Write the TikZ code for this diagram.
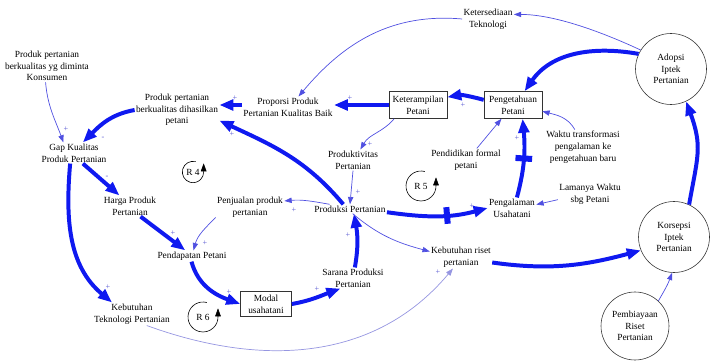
\documentclass[tikz,border=0pt]{standalone}
\usepackage{fontspec}
\setmainfont{Liberation Serif}
\usetikzlibrary{arrows.meta}
\definecolor{thickblue}{RGB}{15,25,240}
\definecolor{thinblue}{RGB}{80,80,225}
\definecolor{paleblue}{RGB}{150,150,225}
\definecolor{signblue}{RGB}{90,90,210}
\begin{document}
\begin{tikzpicture}[x=0.3mm,y=0.3mm,font=\fontsize{8}{10}\selectfont,
  var/.style={align=center,inner sep=1pt},
  lvl/.style={var,draw=black!80,line width=0.5pt,inner xsep=3pt,inner ysep=2pt,minimum height=8.1mm},
  ext/.style={var,circle,draw=black!80,line width=0.5pt,minimum size=21.3mm},
  thk/.style={draw=thickblue,line width=3.4pt,-{Triangle[length=4.2mm,width=3.2mm]}},
  thn/.style={draw=thinblue,line width=0.6pt,-{Triangle[length=2.2mm,width=1.6mm]}},
  sgn/.style={text=signblue,font=\fontsize{7}{7}\selectfont,inner sep=0pt},
  delay/.style={sloped,fill=thickblue,inner sep=0pt,minimum width=1.8mm,minimum height=5mm},
  loopmark/.style={black,line width=0.5pt,-{Triangle[length=2.4mm,width=1.7mm]}}]
\useasboundingbox (0,0) rectangle (718,-363);

\node[var] (konsumen) at (47,-66) {Produk pertanian\\berkualitas yg diminta\\Konsumen};
\node[var] (tersedia) at (488,-19) {Ketersediaan\\Teknologi};
\node[ext] (adopsi) at (671,-69) {Adopsi\\Iptek\\Pertanian};
\node[var] (dihasil) at (177,-110) {Produk pertanian\\berkualitas dihasilkan\\petani};
\node[var] (proporsi) at (288,-107) {Proporsi Produk\\Pertanian Kualitas Baik};
\node[lvl,minimum width=17.4mm] (trampil) at (418,-105) {Keterampilan\\Petani};
\node[lvl,minimum width=17.4mm] (tahu) at (513,-105) {Pengetahuan\\Petani};
\node[var] (gap) at (74,-153) {Gap Kualitas\\Produk Pertanian};
\node[var] (waktu) at (583,-147) {Waktu transformasi\\pengalaman ke\\pengetahuan baru};
\node[var] (didik) at (466,-160) {Pendidikan formal\\petani};
\node[var] (produktif) at (353,-160) {Produktivitas\\Pertanian};
\node[var] (harga) at (130,-206) {Harga Produk\\Pertanian};
\node[var] (jual) at (250,-207) {Penjualan produk\\pertanian};
\node[var] (produksi) at (350,-209) {Produksi Pertanian};
\node[var] (alami) at (512,-208) {Pengalaman\\Usahatani};
\node[var] (lama) at (590,-194) {Lamanya Waktu\\sbg Petani};
\node[ext] (korsepsi) at (674,-237) {Korsepsi\\Iptek\\Pertanian};
\node[var] (dapat) at (192,-256) {Pendapatan Petani};
\node[var] (riset) at (461,-257) {Kebutuhan riset\\pertanian};
\node[var] (sarana) at (353,-278) {Sarana Produksi\\Pertanian};
\node[lvl,minimum width=15.3mm,minimum height=7.5mm] (modal) at (266,-304) {Modal\\usahatani};
\node[var] (kebtek) at (132,-314) {Kebutuhan\\Teknologi Pertanian};
\node[ext,minimum size=20.4mm] (biaya) at (635,-326) {Pembiayaan\\Riset\\Pertanian};

\node (r4) at (193,-172) {R 4};
\node (r5) at (421,-186) {R 5};
\node (r6) at (203,-317) {R 6};
\draw[loopmark] ([shift={(75:3.2mm)}]r4.center) arc[start angle=75,end angle=360,radius=3.2mm] -- ++(0,2.6mm);
\draw[loopmark] ([shift={(75:4.5mm)}]r5.center) arc[start angle=75,end angle=360,radius=4.5mm] -- ++(0,2.6mm);
\draw[loopmark] ([shift={(75:4.5mm)}]r6.center) arc[start angle=75,end angle=360,radius=4.5mm] -- ++(0,2.6mm);

\draw[thk] (dihasil.west) to[out=190,in=45] (gap.50);
\draw[thk] ([yshift=0.6mm]proporsi.west) -- ([yshift=1.5mm]dihasil.east);
\draw[thk] (produksi.145) to[out=130,in=-25] (dihasil.-14);
\draw[thk] (trampil.west) -- (proporsi.east |- trampil.west);
\draw[thk] (tahu.170) to[out=165,in=10] (trampil.15);
\draw[thk] (adopsi.155) to[out=170,in=55] (tahu.50);
\draw[thk] (korsepsi.65) to[out=80,in=-70,looseness=1.2] (adopsi.-65);
\draw[thk] (alami.65) to[out=75,in=-85] node[delay,pos=0.5] {} (tahu.-55);
\draw[thk] (produksi.-5) to[out=-8,in=195] node[delay,pos=0.6] {} (alami.west);
\draw[thk] (gap.-50) -- (harga.135);
\draw[thk] (gap.-110) to[out=-95,in=140] (kebtek.150);
\draw[thk] (harga.-45) -- (dapat.140);
\draw[thk] (dapat.-95) to[out=-75,in=160] (modal.west);
\draw[thk] (modal.east) to[out=10,in=200] (sarana.-140);
\draw[thk] (sarana.80) to[out=80,in=-80] (produksi.-50);
\draw[thk] (riset.-10) to[out=-8,in=195] (korsepsi.202);

\draw[thn] (konsumen.-95) to[out=-85,in=110] (gap.135);
\draw[thn] (tersedia.west) to[out=175,in=50] (proporsi.45);
\draw[thn] (adopsi.148) to[out=155,in=0,looseness=0.8] (tersedia.10);
\draw[thn] (trampil.-150) to[out=-130,in=60] (produktif.55);
\draw[thn] (didik.47) -- (tahu.-130);
\draw[thn] (waktu.115) to[out=120,in=-15] (tahu.-12);
\draw[thn] (lama.190) -- (alami.8);
\draw[thn] (produktif.south) -- (produksi.north);
\draw[thn] (produksi.167) to[out=170,in=5] (jual.10);
\draw[thn] (jual.197) to[out=225,in=75] (dapat.75);
\draw[thn] (produksi.-60) to[out=-40,in=165] (riset.170);
\draw[thn,draw=paleblue] (kebtek.-38) to[out=-20,in=230] (riset.-125);
\draw[thn] (biaya.47) to[out=60,in=-110] (korsepsi.-93);

\node[sgn] (s1) at (66,-129) {+};
\node[sgn] (s2) at (103,-138) {-};
\node[sgn] (s3) at (235,-98) {+};
\node[sgn] (s4) at (232,-134) {+};
\node[sgn] (s5) at (350,-98) {+};
\node[sgn] (s6) at (463,-105) {+};
\node[sgn] (s7) at (370,-144) {+};
\node[sgn] (s8) at (517,-138) {+};
\node[sgn] (s9) at (358,-192) {+};
\node[sgn] (s10) at (294,-210) {+};
\node[sgn] (s11) at (472,-206) {+};
\node[sgn] (s12) at (107,-177) {-};
\node[sgn] (s13) at (108,-287) {+};
\node[sgn] (s14) at (173,-233) {+};
\node[sgn] (s15) at (205,-243) {+};
\node[sgn] (s16) at (229,-292) {+};
\node[sgn] (s17) at (317,-289) {+};
\node[sgn] (s18) at (348,-235) {+};
\node[sgn] (s19) at (438,-272) {+};
\end{tikzpicture}
\end{document}
